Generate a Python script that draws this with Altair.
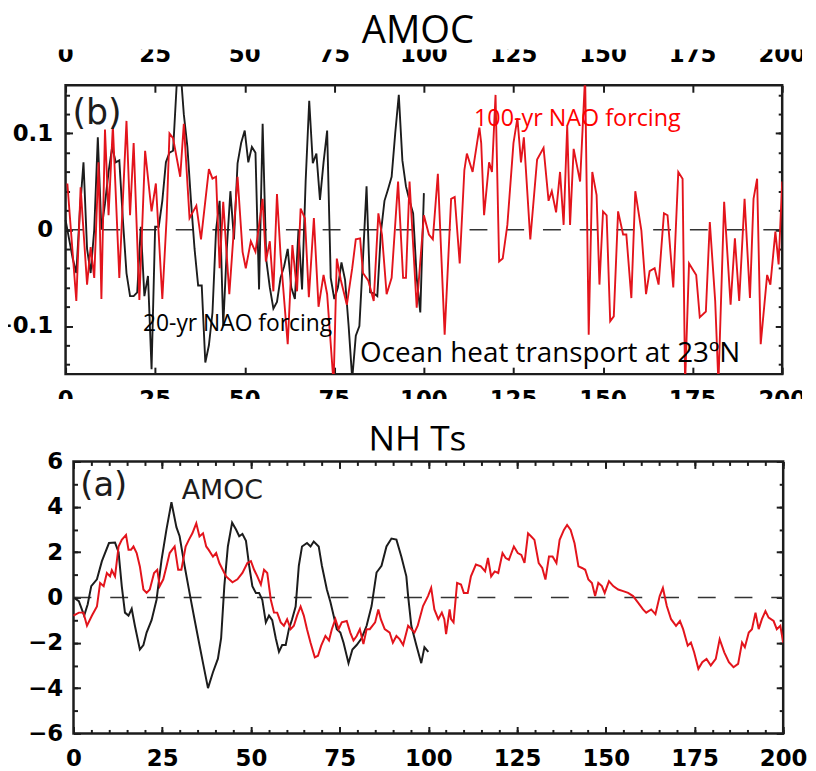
import altair as alt
import pandas as pd

# ---------------- data ----------------
# Top panel (AMOC / ocean heat transport at 23N)
amoc_black_t = list(range(0, 101))
amoc_black_v = [
    0.01, -0.01, -0.03, -0.045, 0.02, 0.07, -0.02, -0.045, 0.0, 0.096,
    0.0, 0.027, 0.06, 0.086, 0.07, 0.072, 0.01, -0.045, -0.069, -0.069,
    -0.065, 0.003, -0.069, -0.048, -0.145, 0.003, 0.003, 0.03, 0.07, 0.08,
    0.082, 0.15, 0.17, 0.12, 0.086, 0.03, -0.02, -0.058, -0.058, -0.138,
    -0.12, -0.086, 0.0, 0.03, -0.1, -0.02, 0.04, -0.01, 0.069, 0.09,
    0.103, 0.07, 0.086, 0.08, -0.062, 0.11, -0.031, -0.06, -0.082, -0.075,
    -0.05, -0.038, -0.02, -0.06, -0.072, 0.0, -0.062, 0.05, 0.134, 0.069,
    0.079, 0.031, 0.07, 0.103, -0.05, -0.072, -0.06, -0.034, -0.052, -0.1,
    -0.155, -0.11, -0.1, -0.03, 0.045, -0.065, -0.066, -0.069, -0.003, 0.03,
    0.042, 0.055, 0.1, 0.14, 0.072, 0.045, 0.03, 0.017, -0.05, -0.086,
    0.038,
]
amoc_red = [
    (0.5, 0.048), (3, -0.074), (4.2, 0.044), (6, -0.057), (7, -0.018), (8, -0.05),
    (9.2, 0.07), (10, -0.072), (11, 0.104), (12, 0.015), (13.2, 0.108), (15, -0.05),
    (17, 0.113), (18, 0.015), (19, 0.09), (20.6, -0.073), (22.2, 0.082), (24, 0.019),
    (25.2, 0.048), (27, -0.072), (28.2, 0.012), (29, 0.1), (30, 0.095), (32, 0.055),
    (33, 0.11), (34.6, 0.012), (36.5, 0.025), (37.8, -0.01), (40, 0.063), (41, 0.053),
    (42, 0.055), (43, -0.04), (44, 0.029), (45.7, -0.067), (48, 0.055), (49.4, -0.023),
    (50.3, -0.04), (51.7, -0.012), (53, -0.023), (55, 0.032), (55.9, -0.033), (57, -0.012),
    (58, -0.064), (59, 0.037), (60, -0.026), (62, -0.119), (63.3, -0.016), (64.6, -0.064),
    (65.6, 0.022), (66.8, 0.012), (67.9, -0.07), (69.3, 0.012), (70.6, -0.08), (72, -0.047),
    (73, -0.067), (74.8, -0.16), (75.7, -0.03), (76.8, -0.052), (78.5, -0.078), (80, -0.04),
    (81, -0.01), (82.2, -0.009), (83, -0.045), (84.5, -0.053), (86, -0.074), (87.3, 0.017),
    (88.3, -0.005), (89.6, -0.067), (91, -0.05), (92.8, 0.05), (94.2, -0.05), (95, -0.05),
    (96, 0.05), (98, -0.081), (100, 0.015), (101.4, -0.005), (102.5, -0.01), (103.9, 0.058),
    (105.8, -0.109), (107.6, 0.032), (108.6, 0.034), (110, -0.035), (111.3, 0.062), (112, 0.079),
    (113.6, 0.06), (115.5, 0.106), (116, 0.09), (116.8, 0.015), (118.2, 0.07), (119, 0.06),
    (120, 0.14), (121, -0.033), (122, -0.03), (123.3, 0.005), (125, 0.09), (126.1, 0.116),
    (127.1, 0.07), (127.9, 0.096), (129.7, -0.01), (131.6, 0.073), (133.4, 0.085), (134.8, 0.03),
    (135.7, 0.04), (136.9, 0.018), (138, 0.06), (139, 0.005), (140, 0.108), (140.8, 0.005),
    (141.8, 0.084), (143.6, 0.05), (145, 0.16), (146, -0.109), (147, 0.06), (148.2, 0.036),
    (149, -0.057), (150, 0.019), (151, 0.015), (152, -0.095), (153, -0.09), (154.2, 0.019),
    (155.6, -0.005), (156.5, -0.005), (157.9, -0.071), (159, 0.04), (160.7, -0.001), (162, -0.067),
    (163, -0.043), (164.4, -0.04), (165.5, -0.057), (167, 0.017), (168, 0.015), (169.6, -0.06),
    (171, 0.06), (172.2, 0.053), (172.9, -0.16), (174, -0.035), (176, -0.047), (177, -0.091),
    (178.7, -0.085), (179.8, 0.008), (181.3, -0.074), (182.2, -0.16), (183.8, 0.029), (185.6, -0.078),
    (186.8, -0.009), (188, -0.074), (189.5, 0.032), (191, -0.071), (192, 0.032), (193, 0.053),
    (194, -0.119), (195.8, -0.047), (196.7, -0.057), (198.1, -0.002), (199, -0.036), (200, 0.05),
]

# Bottom panel (NH Ts)
nhts_black = [
    (0, 0.0), (1.5, -0.16), (3, -0.8), (4, -0.3), (5, 0.5), (6.6, 0.8), (8, 1.6), (10, 2.4),
    (11.7, 2.42), (12.7, 2.0), (13.6, 0.5), (14.5, -0.67), (15.5, -0.8), (16.4, -0.5),
    (17.3, -1.25), (18.7, -2.3), (19.7, -2.1), (20.6, -1.55), (22, -1.0), (23.4, -0.1),
    (24.8, 1.65), (26.2, 3.0), (27.6, 4.2), (29, 3.1), (29.9, 2.7), (31.3, 1.4), (32.7, 0.2),
    (34.1, -0.96), (35.5, -2.1), (36.5, -2.9), (37.9, -4.0), (39.3, -3.3), (40.7, -2.7),
    (41.6, -1.8), (42.5, 0.5), (43.5, 2.25), (44.7, 3.3), (45.8, 3.0), (46.7, 2.7), (47.6, 2.8),
    (48.6, 2.5), (49.5, 1.4), (50.4, 0.5), (51.4, 0.2), (52.3, 0.2), (53.2, -0.1), (54.2, -1.1),
    (55.1, -0.8), (56, -1.0), (57, -1.8), (57.9, -2.4), (58.8, -2.1), (59.8, -2.1), (60.7, -1.4),
    (61.6, -0.96), (62.6, -0.4), (63.5, 1.4), (64.4, 2.25), (65.8, 2.4), (66.8, 2.25),
    (67.7, 2.47), (69.1, 2.25), (70, 1.4), (71.4, 0.35), (72.4, -0.2), (73.3, -0.8),
    (74.2, -1.4), (75.2, -1.55), (76.1, -2.0), (77.5, -2.9), (78.6, -2.3), (79.8, -2.1),
    (81.2, -1.8), (82.6, -1.25), (84, -0.38), (85.4, 1.1), (86.8, 1.4), (88.2, 2.25),
    (89.6, 2.6), (91, 2.55), (92.4, 1.8), (93.8, 0.93), (94.3, 0.06), (95.2, -1.25),
    (96.6, -2.1), (98, -2.9), (98.9, -2.2), (100, -2.4),
]
nhts_red = [
    (0, -0.8), (1.5, -0.67), (2.8, -0.67), (3.8, -1.25), (5.2, -0.8), (6.6, -0.4), (7.5, 0.64),
    (8.5, 0.5), (9.4, 1.08), (10.3, 0.93), (10.8, 1.2), (11.7, 0.93), (12.7, 2.25), (13.6, 2.54),
    (14.8, 2.76), (15.5, 2.1), (16.2, 2.1), (16.9, 2.25), (17.8, 1.96), (18.7, 1.37), (19.7, 0.35),
    (20.6, 0.2), (21.5, 0.35), (22.7, 1.08), (23.6, 1.22), (24.3, 0.5), (25.3, 0.8), (26.2, 1.37),
    (27.1, 1.96), (28.5, 2.25), (29.5, 1.22), (30.4, 1.22), (31.6, 2.25), (32.5, 2.54),
    (33.5, 2.83), (34.6, 3.27), (35.5, 2.69), (36.5, 2.83), (37.4, 2.25), (38.1, 2.1), (39.3, 1.8),
    (40.2, 1.96), (41.1, 1.52), (43, 0.93), (44.8, 0.67), (46.2, 0.8), (47.6, 1.08), (49, 1.52),
    (50, 1.6), (50.9, 1.22), (51.8, 0.93), (52.8, 0.57), (53.7, 1.22), (54.6, 1.08), (55.6, -0.1),
    (56.5, -0.67), (57.4, -0.67), (58.4, -1.1), (59.3, -1.25), (60.2, -0.96), (61.2, -1.4),
    (62.1, -1.25), (63, -0.8), (64, -0.4), (64.9, -0.8), (65.8, -1.4), (66.8, -2.0), (68, -2.64),
    (68.9, -2.57), (69.8, -2.13), (71, -1.7), (72, -1.9), (72.8, -1.4), (73.8, -0.96), (74.7, -1.4),
    (75.6, -1.1), (77, -1.04), (78, -1.55), (78.9, -1.9), (79.8, -1.7), (80.7, -1.4), (81.7, -2.06),
    (82.6, -1.4), (83.5, -1.4), (85, -1.1), (85.9, -0.53), (86.6, -0.96), (87.7, -1.4),
    (89.1, -1.55), (90, -2.0), (91, -1.7), (91.9, -1.84), (92.9, -2.1), (94.3, -1.25),
    (95.2, -1.4), (96.1, -1.55), (97, -1.25), (98.5, -0.38), (99.9, 0.06), (100.8, 0.42),
    (101.7, -0.53), (102.8, -0.96), (103.8, -0.67), (104.5, -0.96), (105, -1.62), (106, -0.53),
    (106.4, -0.96), (107.1, -1.1), (108.1, 0.64), (109.2, 0.57), (110, 0.2), (111.1, 0.2),
    (112, 0.93), (113.4, 1.45), (114.8, 1.37), (116, 1.15), (116.8, 1.74), (117.7, 0.93),
    (118.7, 1.15), (119.7, 1.08), (120.9, 1.96), (121.8, 1.74), (122.7, 1.66), (124.1, 2.25),
    (125.2, 1.96), (126.2, 1.88), (127.1, 1.52), (128.1, 2.83), (129, 2.69), (129.9, 2.54),
    (131.1, 1.52), (132.1, 1.3), (133, 0.79), (134, 1.81), (135, 1.81), (136.1, 1.52),
    (137, 2.54), (138.2, 2.98), (139.1, 3.2), (140.1, 2.98), (141.2, 2.39), (142.3, 1.37),
    (143.3, 1.3), (144.2, 1.22), (145.1, 0.79), (146.1, 0.64), (147, 0.06), (147.9, 0.64),
    (148.9, 0.5), (149.7, 0.2), (150.9, 0.72), (152.1, 0.5), (153.5, 0.35), (154.9, 0.28),
    (156.3, 0.2), (157.7, 0.06), (159.1, -0.23), (160.5, -0.53), (161.4, -0.67), (162.8, -0.53),
    (164, -0.74), (165.2, 0.06), (166.1, 0.42), (167.2, -0.38), (168.4, -0.96), (169.8, -1.25),
    (170.9, -1.04), (171.8, -1.4), (173.1, -2.13), (174, -1.99), (174.9, -2.42), (176.1, -3.15),
    (177.2, -2.86), (178.4, -2.71), (179.6, -3.0), (181, -2.71), (182.1, -1.84), (183.4, -2.42),
    (184.7, -2.86), (186, -3.08), (187.3, -2.93), (188.4, -1.99), (189.2, -2.2), (190.3, -1.55),
    (191.2, -1.4), (192.2, -0.67), (193.1, -1.4), (194, -0.96), (195, -0.6), (195.9, -0.89),
    (197.3, -1.04), (198.2, -1.4), (199.2, -1.25), (200, -1.99),
]

# ticks
x_major = [0, 25, 50, 75, 100, 125, 150, 175, 200]
x_minor = list(range(0, 201, 5))
amoc_y_major = [-0.1, 0.0, 0.1]
amoc_y_minor = [-0.14, -0.12, -0.1, -0.08, -0.06, -0.04, -0.02, 0.0,
                0.02, 0.04, 0.06, 0.08, 0.1, 0.12, 0.14]
nhts_y_major = [-6, -4, -2, 0, 2, 4, 6]
nhts_y_minor = [-6, -5, -4, -3, -2, -1, 0, 1, 2, 3, 4, 5, 6]

# titles and annotations (annotations in data coordinates)
panel_titles = ["AMOC", "NH Ts"]
amoc_notes = ["(b)", "20-yr NAO forcing", "100-yr NAO forcing", "Ocean heat transport at 23ºN"]
amoc_notes_t = [1.9, 21.6, 114.0, 82.2]
amoc_notes_v = [0.121, -0.105, 0.108, -0.137]
nhts_notes = ["(a)", "AMOC"]
nhts_notes_t = [1.9, 30.5]
nhts_notes_v = [4.9, 4.34]

# ---------------- style / layout ----------------
RED = "#e3141c"
BLACK = "#1c1c1c"
LABEL_FONT = "DejaVu Sans"
TITLE_FONT = "Open Sans"
MAJ = 7
MIN = 4
TOP_SHIFT = 20          # plot frame of top panel starts 20px right of the common origin
BOT_SHIFT = 28          # plot frame of bottom panel starts 28px right of the common origin
TOP_W, TOP_H = 722, 291
BOT_W, BOT_H = 715, 274
STRIP_W = TOP_SHIFT + TOP_W + 20


def tick_axis(orient, values, size, shift=0):
    return alt.Axis(orient=orient, values=values, tickSize=size, offset=-(size + shift),
                    labels=False, domain=False, grid=False, ticks=True,
                    tickColor=BLACK, tickWidth=2, title=None)


def label_axis(orient, values, size, pad, fmt, shift=0):
    return alt.Axis(orient=orient, values=values, tickSize=size, offset=-(size + shift),
                    labels=True, labelPadding=pad, labelFont=LABEL_FONT, labelFontSize=23,
                    labelFontWeight="bold", labelColor="#000", labelFlush=False,
                    format=fmt, domain=False, grid=False, ticks=True,
                    tickColor=BLACK, tickWidth=2, title=None)


def title_strip(text, height, ypos, xpos, size):
    return alt.Chart(pd.DataFrame({"s": [text]})).mark_text(
        clip=True, font=TITLE_FONT, fontSize=size, color="#000",
        baseline="alphabetic", align="center"
    ).encode(x=alt.value(xpos), y=alt.value(ypos), text="s:N").properties(
        width=STRIP_W, height=height)


def tick_label_strip(height, ypos):
    sc = alt.Scale(domain=[0, 200], range=[TOP_SHIFT, TOP_SHIFT + TOP_W], nice=False)
    return alt.Chart(pd.DataFrame({"v": x_major})).mark_text(
        clip=True, font=LABEL_FONT, fontSize=23, fontWeight="bold", color="#000",
        baseline="alphabetic", align="center"
    ).encode(
        x=alt.X("v:Q", scale=sc, axis=None),
        y=alt.value(ypos),
        text=alt.Text("v:Q", format="d"),
    ).properties(width=STRIP_W, height=height)


def note(d, font, size, color, baseline, xs, ys):
    return alt.Chart(pd.DataFrame(d)).mark_text(
        align="left", baseline=baseline, font=font, fontSize=size, color=color
    ).encode(x=alt.X("t:Q", scale=xs, axis=None),
             y=alt.Y("v:Q", scale=ys, axis=None), text="s:N")


# ---------------- rows ----------------
row1 = title_strip(panel_titles[0], 39, 32, 375, 38.5)      # "AMOC"
row2 = tick_label_strip(34, 13)                              # top tick labels (cut at top)

# top panel
xs_top = alt.Scale(domain=[0, 200], range=[TOP_SHIFT, TOP_SHIFT + TOP_W], nice=False)
ys_top = alt.Scale(domain=[-0.15, 0.15], nice=False)

frame_top = alt.Chart(pd.DataFrame({"x0": [0], "x1": [200], "y0": [-0.15], "y1": [0.15]})).mark_rect(
    filled=False, stroke=BLACK, strokeWidth=2.5
).encode(
    x=alt.X("x0:Q", scale=xs_top, axis=tick_axis("top", x_major, MAJ)),
    x2="x1:Q",
    y=alt.Y("y0:Q", scale=ys_top, axis=tick_axis("right", amoc_y_minor, MIN)),
    y2="y1:Q",
)
zero_top = alt.Chart(pd.DataFrame({"x0": [0], "x1": [200], "z": [0]})).mark_rule(
    color="#333", strokeWidth=1.6, strokeDash=[18, 19]
).encode(
    x=alt.X("x0:Q", scale=xs_top, axis=tick_axis("bottom", x_major, MAJ)),
    x2="x1:Q",
    y=alt.Y("z:Q", scale=ys_top, axis=tick_axis("left", amoc_y_minor, MIN, TOP_SHIFT)),
)
black_top = alt.Chart(pd.DataFrame({"t": amoc_black_t, "v": amoc_black_v})).mark_line(
    clip=True, color=BLACK, strokeWidth=1.9
).encode(
    x=alt.X("t:Q", scale=xs_top, axis=None),
    y=alt.Y("v:Q", scale=ys_top, axis=tick_axis("right", amoc_y_major, MAJ)),
)
red_top = alt.Chart(pd.DataFrame({"t": [p[0] for p in amoc_red],
                                  "v": [p[1] for p in amoc_red]})).mark_line(
    clip=True, color=RED, strokeWidth=1.9
).encode(
    x=alt.X("t:Q", scale=xs_top, axis=None),
    y=alt.Y("v:Q", scale=ys_top,
            axis=label_axis("left", amoc_y_major, MAJ, 13, ".1~f", TOP_SHIFT)),
)
top_notes = [
    note({"t": [amoc_notes_t[0]], "v": [amoc_notes_v[0]], "s": [amoc_notes[0]]},
         "DejaVu Sans", 35, BLACK, "middle", xs_top, ys_top),
    note({"t": [amoc_notes_t[1]], "v": [amoc_notes_v[1]], "s": [amoc_notes[1]]},
         TITLE_FONT, 23, "#000", "alphabetic", xs_top, ys_top),
    note({"t": [amoc_notes_t[2]], "v": [amoc_notes_v[2]], "s": [amoc_notes[2]]},
         TITLE_FONT, 23.5, "#ff0000", "alphabetic", xs_top, ys_top),
    note({"t": [amoc_notes_t[3]], "v": [amoc_notes_v[3]], "s": [amoc_notes[3]]},
         TITLE_FONT, 28, "#000", "alphabetic", xs_top, ys_top),
]
row3 = alt.layer(frame_top, zero_top, black_top, red_top, *top_notes).resolve_axis(
    x="independent", y="independent"
).properties(width=TOP_SHIFT + TOP_W, height=TOP_H)

row4 = tick_label_strip(23, 31)                              # bottom tick labels (cut at bottom)
row5 = title_strip(panel_titles[1], 52, 52, 374.5, 35.5)    # "NH Ts"

# bottom panel
xs_bot = alt.Scale(domain=[0, 200], range=[BOT_SHIFT, BOT_SHIFT + BOT_W], nice=False)
ys_bot = alt.Scale(domain=[-6, 6], nice=False)

frame_bot = alt.Chart(pd.DataFrame({"x0": [0], "x1": [200], "y0": [-6], "y1": [6]})).mark_rect(
    filled=False, stroke=BLACK, strokeWidth=2.5
).encode(
    x=alt.X("x0:Q", scale=xs_bot, axis=tick_axis("top", x_major, MAJ)),
    x2="x1:Q",
    y=alt.Y("y0:Q", scale=ys_bot, axis=tick_axis("right", nhts_y_minor, MIN)),
    y2="y1:Q",
)
zero_bot = alt.Chart(pd.DataFrame({"x0": [0], "x1": [200], "z": [0]})).mark_rule(
    color="#333", strokeWidth=1.6, strokeDash=[18, 19]
).encode(
    x=alt.X("x0:Q", scale=xs_bot, axis=tick_axis("bottom", x_minor, MIN)),
    x2="x1:Q",
    y=alt.Y("z:Q", scale=ys_bot, axis=tick_axis("left", nhts_y_minor, MIN, BOT_SHIFT)),
)
black_bot = alt.Chart(pd.DataFrame({"t": [p[0] for p in nhts_black],
                                    "v": [p[1] for p in nhts_black]})).mark_line(
    clip=True, color=BLACK, strokeWidth=2
).encode(
    x=alt.X("t:Q", scale=xs_bot, axis=tick_axis("top", x_minor, MIN)),
    y=alt.Y("v:Q", scale=ys_bot, axis=tick_axis("right", nhts_y_major, MAJ)),
)
red_bot = alt.Chart(pd.DataFrame({"t": [p[0] for p in nhts_red],
                                  "v": [p[1] for p in nhts_red]})).mark_line(
    clip=True, color=RED, strokeWidth=2
).encode(
    x=alt.X("t:Q", scale=xs_bot, axis=label_axis("bottom", x_major, MAJ, 14, "d")),
    y=alt.Y("v:Q", scale=ys_bot, axis=label_axis("left", nhts_y_major, MAJ, 11, "d", BOT_SHIFT)),
)
bot_notes = [
    note({"t": [nhts_notes_t[0]], "v": [nhts_notes_v[0]], "s": [nhts_notes[0]]},
         "DejaVu Sans", 34, BLACK, "middle", xs_bot, ys_bot),
    note({"t": [nhts_notes_t[1]], "v": [nhts_notes_v[1]], "s": [nhts_notes[1]]},
         "DejaVu Sans", 27, BLACK, "alphabetic", xs_bot, ys_bot),
]
row6 = alt.layer(frame_bot, zero_bot, black_bot, red_bot, *bot_notes).resolve_axis(
    x="independent", y="independent"
).properties(width=BOT_SHIFT + BOT_W, height=BOT_H)

chart = alt.vconcat(row1, row2, row3, row4, row5, row6, spacing=0).properties(
    padding={"left": -16, "top": 0, "right": 0, "bottom": 0}
).configure_view(strokeWidth=0)

chart.save("out.html", embed_options={"renderer": "svg", "actions": False})
